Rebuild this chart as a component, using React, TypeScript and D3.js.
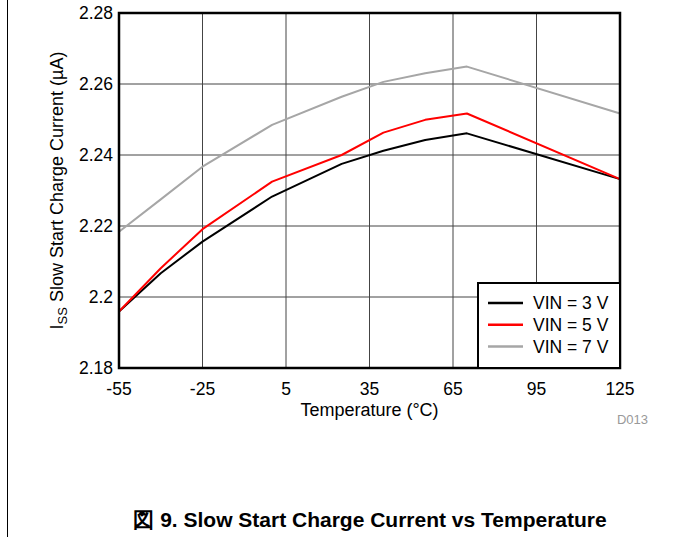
import * as d3 from "d3";

// temperatures (°C) where the curves were sampled
const temps = [-55, -40, -25, 0, 25, 40, 55, 70, 125];

// slow start charge current (µA) per input voltage
const vin3 = [2.1959, 2.2067, 2.2156, 2.2283, 2.2375, 2.2412, 2.2442, 2.2461, 2.2332];
const vin5 = [2.1959, 2.2081, 2.2191, 2.2325, 2.2400, 2.2463, 2.2499, 2.2517, 2.2332];
const vin7 = [2.2184, 2.2275, 2.2367, 2.2485, 2.2564, 2.2606, 2.2630, 2.2649, 2.2517];

const seriesNames = ["VIN = 3 V", "VIN = 5 V", "VIN = 7 V"];
const seriesColors = ["#000000", "#ff0000", "#a6a6a6"];

const xTicks = [-55, -25, 5, 35, 65, 95, 125];
const yTicks = [2.18, 2.2, 2.22, 2.24, 2.26, 2.28];

const FONT = "'Liberation Sans', Arial, sans-serif";

function App() {
  const width = 673;
  const height = 537;
  const margin = { top: 13, right: 53, bottom: 169, left: 119 };

  const x = d3.scaleLinear([-55, 125], [margin.left, width - margin.right]);
  const y = d3.scaleLinear([2.18, 2.28], [height - margin.bottom, margin.top]);

  const series = [vin3, vin5, vin7].map((vals, i) => ({
    name: seriesNames[i],
    color: seriesColors[i],
    points: temps.map((t, j) => [t, vals[j]] as [number, number]),
  }));

  const line = d3.line<[number, number]>()
    .x(d => x(d[0]))
    .y(d => y(d[1]));

  const legendX = 478;
  const legendY = 283;
  const plotBottom = height - margin.bottom;
  const plotRight = width - margin.right;

  return (
    <svg width={width} height={height} style={{ position: "absolute", left: 0, top: 0, background: "white" }}>
      {/* page edge */}
      <line x1={7.5} x2={7.5} y1={0} y2={height} stroke="#000" strokeWidth={1} />

      {/* grid */}
      <g stroke="#444" strokeWidth={1}>
        {xTicks.slice(1, -1).map(t => (
          <line key={`vx${t}`} x1={x(t)} x2={x(t)} y1={margin.top} y2={plotBottom} />
        ))}
        {yTicks.slice(1, -1).map(t => (
          <line key={`hy${t}`} x1={margin.left} x2={plotRight} y1={y(t)} y2={y(t)} />
        ))}
      </g>

      {/* data */}
      {series.map(s => (
        <path key={s.name} d={line(s.points) || ""} fill="none" stroke={s.color} strokeWidth={2} strokeLinejoin="round" />
      ))}

      {/* frame */}
      <rect x={margin.left} y={margin.top} width={plotRight - margin.left} height={plotBottom - margin.top}
        fill="none" stroke="#000" strokeWidth={2.5} />

      {/* legend */}
      <rect x={legendX} y={legendY} width={plotRight - legendX} height={plotBottom - legendY}
        fill="white" stroke="#000" strokeWidth={2} />
      {series.map((s, i) => (
        <g key={`lg${i}`} transform={`translate(0,${legendY + 20 + i * 21.7})`}>
          <line x1={488} x2={523} y1={0} y2={0} stroke={s.color} strokeWidth={2.5} />
          <text x={533} y={0} dy="0.35em" fontSize={17.5} fontFamily={FONT}>{s.name}</text>
        </g>
      ))}

      {/* tick labels */}
      <g fontSize={17.5} fontFamily={FONT}>
        {yTicks.map(t => (
          <text key={`yl${t}`} x={margin.left - 6} y={y(t)} dy="0.35em" textAnchor="end">{String(t)}</text>
        ))}
        {xTicks.map(t => (
          <text key={`xl${t}`} x={x(t)} y={plotBottom + 27} textAnchor="middle">{String(t)}</text>
        ))}
      </g>

      {/* axis titles */}
      <text x={(margin.left + plotRight) / 2} y={plotBottom + 48} textAnchor="middle" fontSize={18} fontFamily={FONT}>
        Temperature (°C)
      </text>
      <text transform={`translate(57,${(margin.top + plotBottom) / 2}) rotate(-90)`} textAnchor="middle"
        dy="0.35em" fontSize={18} fontFamily={FONT}>
        I<tspan fontSize={13} dy="4">SS</tspan><tspan dy="-4"> Slow Start Charge Current (µA)</tspan>
      </text>

      <text x={648} y={424} textAnchor="end" fontSize={13} fontFamily={FONT} fill="#999">D013</text>

      <text x={370} y={527} textAnchor="middle" fontSize={21} fontWeight="bold" fontFamily={FONT}>
        図 9. Slow Start Charge Current vs Temperature
      </text>
    </svg>
  );
}

export default App;
